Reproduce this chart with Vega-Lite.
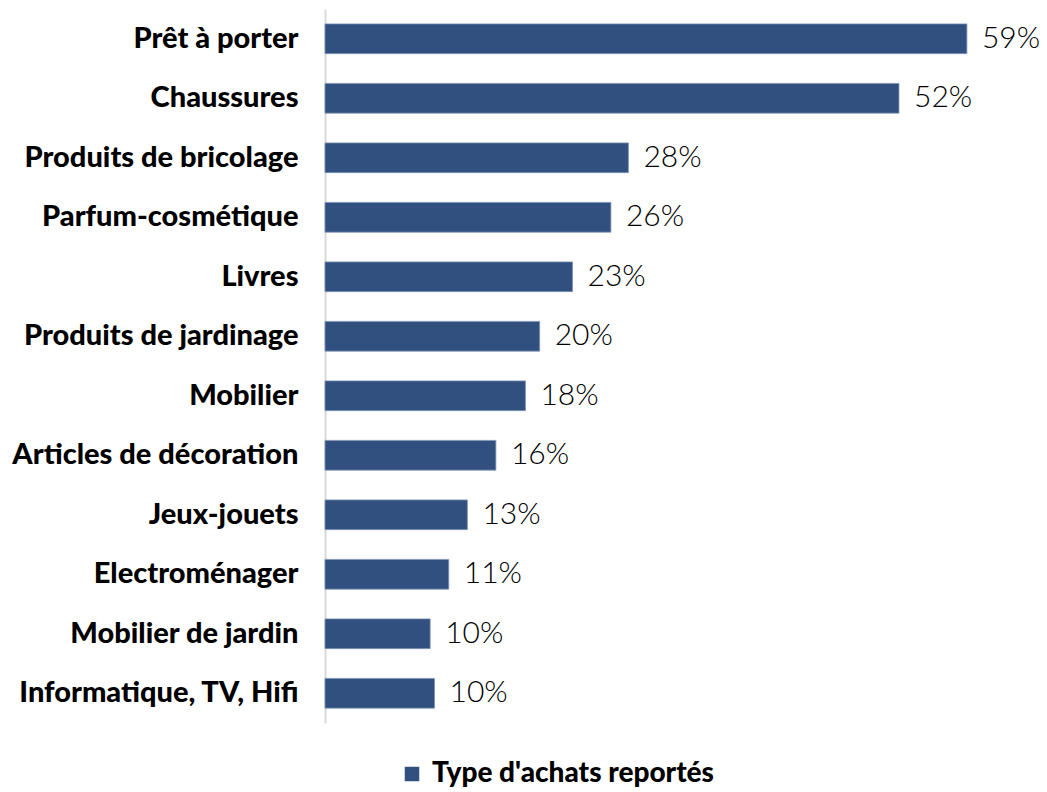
{
  "$schema": "https://vega.github.io/schema/vega-lite/v6.json",
  "autosize": "none",
  "width": 712,
  "height": 714,
  "padding": {"left": 325, "top": 9, "right": 10, "bottom": 69},
  "background": "white",
  "config": {"view": {"stroke": null}},
  "data": {
    "values": [
      {"categorie": "Prêt à porter", "part": 0.586, "serie": "Type d'achats reportés"},
      {"categorie": "Chaussures", "part": 0.524, "serie": "Type d'achats reportés"},
      {"categorie": "Produits de bricolage", "part": 0.277, "serie": "Type d'achats reportés"},
      {"categorie": "Parfum-cosmétique", "part": 0.261, "serie": "Type d'achats reportés"},
      {"categorie": "Livres", "part": 0.226, "serie": "Type d'achats reportés"},
      {"categorie": "Produits de jardinage", "part": 0.196, "serie": "Type d'achats reportés"},
      {"categorie": "Mobilier", "part": 0.183, "serie": "Type d'achats reportés"},
      {"categorie": "Articles de décoration", "part": 0.156, "serie": "Type d'achats reportés"},
      {"categorie": "Jeux-jouets", "part": 0.130, "serie": "Type d'achats reportés"},
      {"categorie": "Electroménager", "part": 0.113, "serie": "Type d'achats reportés"},
      {"categorie": "Mobilier de jardin", "part": 0.096, "serie": "Type d'achats reportés"},
      {"categorie": "Informatique, TV, Hifi", "part": 0.100, "serie": "Type d'achats reportés"}
    ]
  },
  "encoding": {
    "y": {
      "field": "categorie",
      "type": "nominal",
      "sort": null,
      "title": null,
      "scale": {"paddingInner": 0.5, "paddingOuter": 0.25},
      "axis": {
        "domain": true,
        "domainColor": "#d9d9d9",
        "domainWidth": 2,
        "ticks": false,
        "labelPadding": 27,
        "labelFont": "Lato",
        "labelFontWeight": 900,
        "labelFontSize": 29,
        "labelColor": "#000000",
        "labelLimit": 400
      }
    },
    "x": {
      "field": "part",
      "type": "quantitative",
      "scale": {"domain": [0, 0.65], "nice": false},
      "axis": null
    }
  },
  "layer": [
    {
      "mark": {"type": "bar", "stroke": "#7f95b8", "strokeWidth": 0.8},
      "encoding": {
        "color": {
          "field": "serie",
          "type": "nominal",
          "scale": {"range": ["#31507f"]},
          "legend": {
            "title": null,
            "orient": "none",
            "legendX": 73,
            "legendY": 751,
            "symbolType": "square",
            "symbolSize": 210,
            "symbolStrokeWidth": 0,
            "labelFont": "Lato",
            "labelFontWeight": 900,
            "labelFontSize": 28,
            "labelColor": "#000000",
            "labelOffset": 6,
            "labelLimit": 400
          }
        }
      }
    },
    {
      "mark": {
        "type": "text",
        "align": "left",
        "baseline": "middle",
        "dx": 15,
        "font": "Lato",
        "fontSize": 30,
        "fontWeight": 300,
        "color": "#000000"
      },
      "encoding": {
        "text": {"field": "part", "type": "quantitative", "format": ".0%"}
      }
    }
  ]
}
